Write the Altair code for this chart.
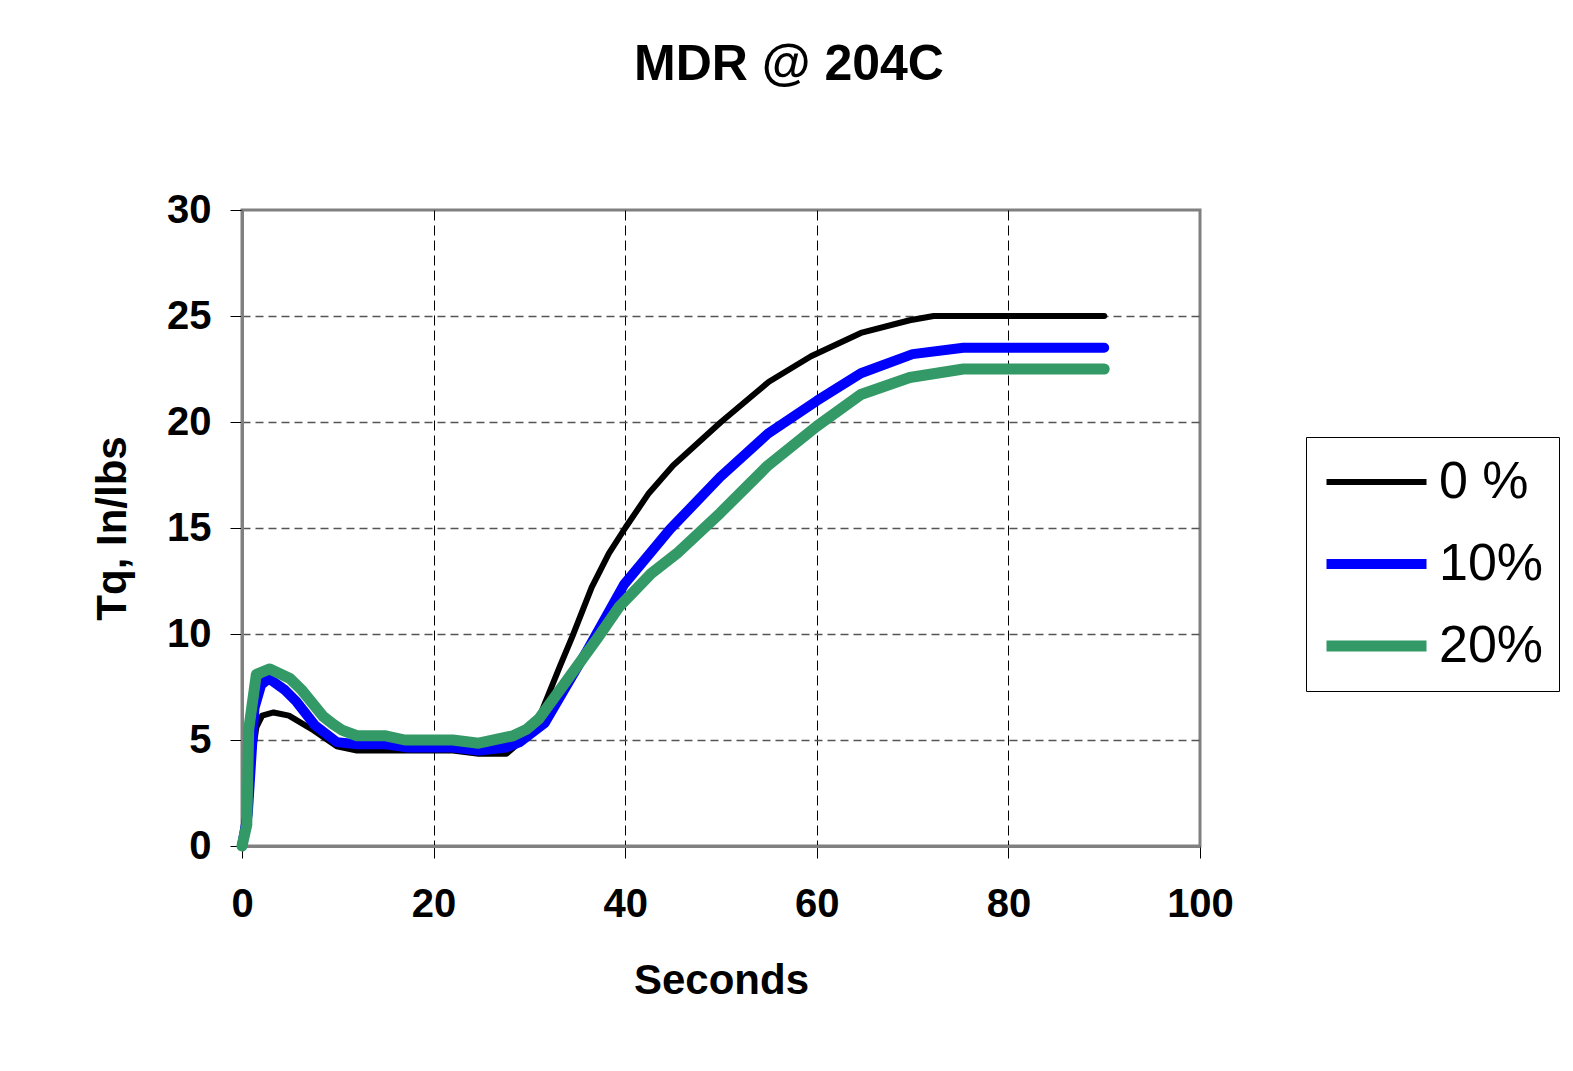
import altair as alt
import pandas as pd

# ---- data ----
series_names = ["0 %", "10%", "20%"]
series_colors = ["#000000", "#0000FF", "#339966"]
series_widths = [6, 10, 11]

t_0 = [0, 0.8, 1.5, 2.1, 3.3, 4.9, 7.5, 9.9, 12, 15, 17.5, 22, 24.7, 27.6, 29,
       31.1, 33.2, 34.5, 36.5, 38.3, 40, 42.4, 45, 50, 55, 59.4, 64.6, 69.7,
       72.2, 80, 90]
v_0 = [0, 3.5, 5.6, 6.15, 6.3, 6.15, 5.45, 4.7, 4.5, 4.5, 4.5, 4.5, 4.35, 4.35, 4.9,
       6.15, 8.5, 9.9, 12.2, 13.8, 15.0, 16.6, 17.95, 20.0, 21.9, 23.1, 24.2, 24.8,
       25.0, 25.0, 25.0]

t_10 = [0, 0.6, 1.3, 2.0, 2.8, 4.5, 5.7, 7.6, 9.9, 12, 15, 17.2, 22, 24.7, 27.6,
        29, 31.6, 36.0, 39.9, 44.7, 49.9, 54.9, 60, 64.6, 70, 75.3, 80, 90]
v_10 = [0, 1.5, 6.5, 7.6, 7.9, 7.35, 6.8, 5.7, 4.9, 4.8, 4.8, 4.65, 4.65, 4.5, 4.65,
        4.9, 5.8, 9.2, 12.35, 14.95, 17.4, 19.45, 21.0, 22.3, 23.2, 23.5, 23.5, 23.5]

t_20 = [0, 0.5, 0.7, 1.5, 2.9, 5.0, 6.25, 8.5, 9.5, 10.5, 12, 15, 17, 22, 24.7,
        28.3, 29.7, 31, 37.1, 39.4, 42.7, 45.4, 49.9, 54.9, 60, 64.6, 69.7, 75.3,
        80, 90]
v_20 = [0, 1.0, 5.5, 8.1, 8.35, 7.9, 7.35, 6.1, 5.75, 5.45, 5.2, 5.2, 5.0, 5.0, 4.85,
        5.2, 5.5, 6.0, 9.8, 11.3, 12.85, 13.8, 15.7, 17.95, 19.8, 21.3, 22.1, 22.5,
        22.5, 22.5]

x_ticks = [0, 20, 40, 60, 80, 100]
y_ticks = [0, 5, 10, 15, 20, 25, 30]

rows = []
for name, ts, vs in zip(series_names, [t_0, t_10, t_20], [v_0, v_10, v_20]):
    for t, v in zip(ts, vs):
        rows.append({"series": name, "seconds": t, "torque": v})
df = pd.DataFrame(rows)

FONT = "Liberation Sans"

legend_spec = dict(
    title=None,
    orient="none",
    legendX=1064,
    legendY=227,
    strokeColor="#000000",
    fillColor="#ffffff",
    padding=15,
    symbolType="stroke",
    symbolSize=10000,
    clipHeight=60,
    rowPadding=22,
    labelFontSize=52,
    labelFont=FONT,
    labelFontWeight="normal",
    labelColor="#000000",
    labelOffset=7,
    labelLimit=400,
)

x_grid_hide = {"condition": {"test": "datum.value == 0 || datum.value == 100", "value": 0}, "value": 1}
y_grid_hide = {"condition": {"test": "datum.value == 0 || datum.value == 30", "value": 0}, "value": 1}

chart = (
    alt.Chart(df)
    .mark_line(strokeCap="round", strokeJoin="round")
    .encode(
        x=alt.X(
            "seconds:Q",
            scale=alt.Scale(domain=[0, 100], nice=False),
            axis=alt.Axis(
                title="Seconds",
                values=x_ticks,
                grid=True,
                gridColor="#000000",
                gridWidth=1,
                gridDash=[10, 5],
                gridOpacity=x_grid_hide,
                domainColor="#808080",
                domainWidth=3,
                tickColor="#000000",
                tickSize=12,
                tickWidth=1,
                labelFont=FONT,
                labelFontSize=40,
                labelFontWeight="bold",
                labelColor="#000000",
                labelPadding=26,
                labelFlush=False,
                titleFont=FONT,
                titleFontSize=42,
                titleFontWeight="bold",
                titleColor="#000000",
                titleBaseline="alphabetic",
                titleY=147,
            ),
        ),
        y=alt.Y(
            "torque:Q",
            scale=alt.Scale(domain=[0, 30], nice=False),
            axis=alt.Axis(
                title="Tq, In/lbs",
                values=y_ticks,
                grid=True,
                gridColor="#555555",
                gridWidth=1.5,
                gridDash=[8, 5],
                gridOpacity=y_grid_hide,
                domainColor="#808080",
                domainWidth=3,
                tickColor="#000000",
                tickSize=12,
                tickWidth=1,
                labelFont=FONT,
                labelFontSize=40,
                labelFontWeight="bold",
                labelColor="#000000",
                labelPadding=19,
                labelFlush=False,
                titleFont=FONT,
                titleFontSize=42,
                titleFontWeight="bold",
                titleColor="#000000",
                titleBaseline="alphabetic",
                titleAlign="center",
                titleAngle=270,
                titleX=-117,
                titleY=318,
            ),
        ),
        color=alt.Color(
            "series:N",
            scale=alt.Scale(domain=series_names, range=series_colors),
            legend=alt.Legend(**legend_spec),
        ),
        strokeWidth=alt.StrokeWidth(
            "series:N",
            scale=alt.Scale(type="ordinal", domain=series_names, range=series_widths),
            legend=alt.Legend(**legend_spec),
        ),
        order=alt.Order("seconds:Q"),
    )
    .properties(
        width=958,
        height=636,
        title=alt.TitleParams(
            "MDR @ 204C",
            font=FONT,
            fontSize=50,
            fontWeight="bold",
            color="#000000",
            anchor="middle",
            frame="group",
            baseline="alphabetic",
            offset=60,
            dx=68,
        ),
        autosize=alt.AutoSizeParams(type="none"),
        padding={"left": 234, "top": 202, "right": 365, "bottom": 200},
    )
    .configure(background="#ffffff")
    .configure_view(stroke="#808080", strokeWidth=3)
)

chart.save("out.html", embed_options={"renderer": "svg", "actions": False})
